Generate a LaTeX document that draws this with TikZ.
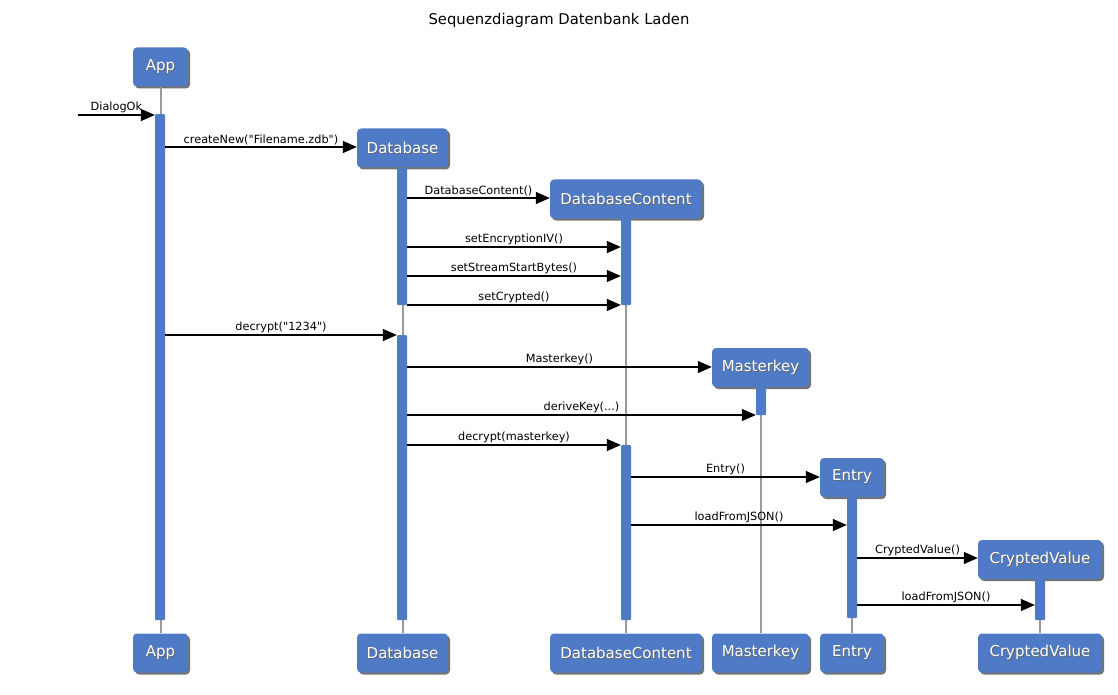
\documentclass[tikz,border=0pt]{standalone}
\usepackage{fontspec}
\setmainfont{DejaVu Sans}
\usetikzlibrary{arrows.meta,shadows}
\definecolor{boxblue}{HTML}{4F7BC6}
\definecolor{lifegray}{HTML}{999999}
\newcommand\shtxt[1]{\rlap{\kern0.9pt\raisebox{-0.9pt}{\textcolor{black!60}{#1}}}#1}
\begin{document}
\begin{tikzpicture}[x=1pt,y=-1pt,
  obj/.style={fill=boxblue, draw=none, rounded corners=4pt, text=white,
    font=\fontsize{15}{17}\selectfont, minimum height=39pt, inner sep=0pt,
    drop shadow={fill=black, opacity=0.55, shadow xshift=2pt, shadow yshift=-2pt}},
  act/.style={fill=boxblue, draw=none, rounded corners=1pt, minimum width=10pt, inner sep=0pt, anchor=north},
  life/.style={draw=lifegray, line width=2pt},
  msg/.style={-{Triangle[length=14pt,width=12pt]}, line width=1.3pt},
  lbl/.style={font=\fontsize{11.3}{13}\selectfont, above, inner sep=1.5pt}]
\path[use as bounding box] (0,0) rectangle (1118,695);
\node[font=\fontsize{14.8}{17}\selectfont] (title) at (559,20) {Sequenzdiagram Datenbank Laden};
% objects top
\node[obj, minimum width=55pt]  (appT) at (160.5,67)  {\shtxt{App}};
\node[obj, minimum width=91pt]  (dbT)  at (402.5,148) {\shtxt{Database}};
\node[obj, minimum width=152pt] (dcT)  at (626,199)   {\shtxt{DatabaseContent}};
\node[obj, minimum width=97pt]  (mkT)  at (760.5,367.5) {\shtxt{Masterkey}};
\node[obj, minimum width=64pt]  (enT)  at (852,477.5) {\shtxt{Entry}};
\node[obj, minimum width=124pt] (cvT)  at (1040,559.5) {\shtxt{CryptedValue}};
% objects bottom
\node[obj, minimum width=55pt]  (appB) at (160.5,653) {\shtxt{App}};
\node[obj, minimum width=91pt]  (dbB)  at (402.5,653) {\shtxt{Database}};
\node[obj, minimum width=152pt] (dcB)  at (626,653)   {\shtxt{DatabaseContent}};
\node[obj, minimum width=97pt]  (mkB)  at (760.5,653) {\shtxt{Masterkey}};
\node[obj, minimum width=64pt]  (enB)  at (852,653)   {\shtxt{Entry}};
\node[obj, minimum width=124pt] (cvB)  at (1040,653)  {\shtxt{CryptedValue}};
% lifelines
\foreach \a/\b in {appT/appB, dbT/dbB, dcT/dcB, mkT/mkB, enT/enB, cvT/cvB}
  \draw[life] (\a.south) -- (\b.north);
% activations
\node[act, minimum height=506pt] (appA) at (160,114) {};
\node[act, minimum height=137pt] (dbA1) at (402,168) {};
\node[act, minimum height=285pt] (dbA2) at (402,335) {};
\node[act, minimum height=87pt]  (dcA1) at (626,218) {};
\node[act, minimum height=175pt] (dcA2) at (626,445) {};
\node[act, minimum height=28pt]  (mkA)  at (761,387) {};
\node[act, minimum height=121pt] (enA)  at (852,497) {};
\node[act, minimum height=41pt]  (cvA)  at (1040,579) {};
% messages
\coordinate (start) at (78,115);
\draw[msg] (start) -- (start -| appA.west) node[lbl, midway] {DialogOk};
\draw[msg] (appA.east |- 0,147) -- (dbT.west |- 0,147) node[lbl, midway] {createNew(\textquotedbl Filename.zdb\textquotedbl)};
\draw[msg] (dbA1.east |- 0,198) -- (dcT.west |- 0,198) node[lbl, midway] {DatabaseContent()};
\draw[msg] (dbA1.east |- 0,247) -- (dcA1.west |- 0,247) node[lbl, midway] {setEncryptionIV()};
\draw[msg] (dbA1.east |- 0,276) -- (dcA1.west |- 0,276) node[lbl, midway] {setStreamStartBytes()};
\draw[msg] (dbA1.east |- 0,305) -- (dcA1.west |- 0,305) node[lbl, midway] {setCrypted()};
\draw[msg] (appA.east |- 0,335) -- (dbA2.west |- 0,335) node[lbl, midway] {decrypt(\textquotedbl 1234\textquotedbl)};
\draw[msg] (dbA2.east |- 0,367) -- (mkT.west |- 0,367) node[lbl, midway] {Masterkey()};
\draw[msg] (dbA2.east |- 0,415) -- (mkA.west |- 0,415) node[lbl, midway] {deriveKey(...)};
\draw[msg] (dbA2.east |- 0,445) -- (dcA2.west |- 0,445) node[lbl, midway] {decrypt(masterkey)};
\draw[msg] (dcA2.east |- 0,477) -- (enT.west |- 0,477) node[lbl, midway] {Entry()};
\draw[msg] (dcA2.east |- 0,525) -- (enA.west |- 0,525) node[lbl, midway] {loadFromJSON()};
\draw[msg] (enA.east |- 0,558) -- (cvT.west |- 0,558) node[lbl, midway] {CryptedValue()};
\draw[msg] (enA.east |- 0,605) -- (cvA.west |- 0,605) node[lbl, midway] {loadFromJSON()};
\end{tikzpicture}
\end{document}
